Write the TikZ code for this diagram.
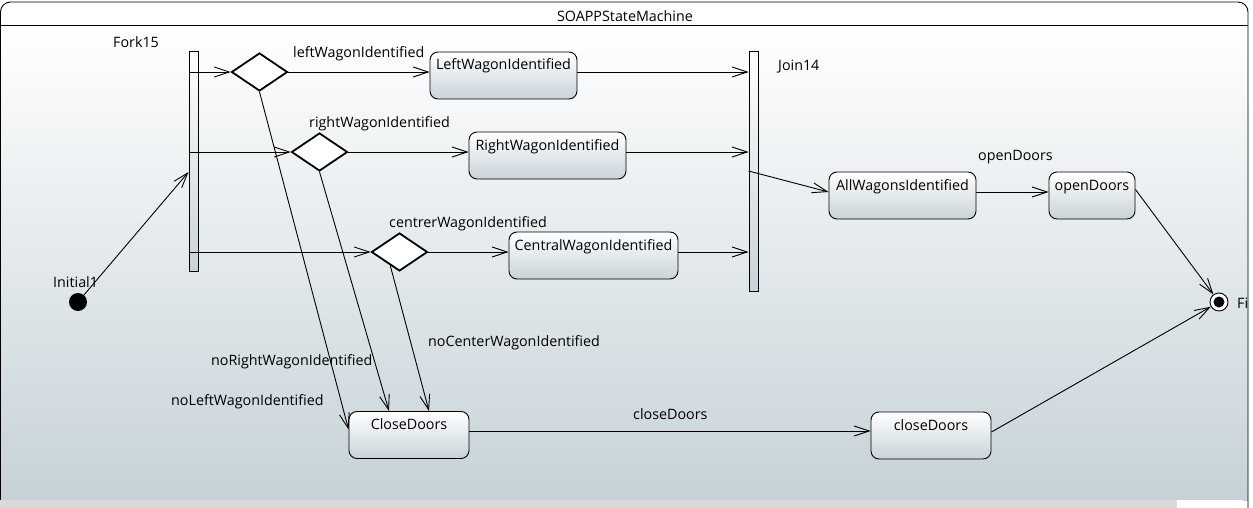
\documentclass[tikz,border=0pt]{standalone}
\usepackage{fontspec}
\setmainfont{Open Sans}
\usetikzlibrary{arrows.meta,shapes.geometric,calc}
\definecolor{bgbot}{RGB}{198,210,216}
\definecolor{stbot}{RGB}{200,211,217}
\definecolor{strip}{RGB}{217,217,217}
\begin{document}
\begin{tikzpicture}[x=1pt,y=-1pt,
  font=\fontsize{14.3}{17}\selectfont,
  >={Straight Barb[length=15pt,width=10pt]},
  conn/.style={->,line width=0.9pt},
  state/.style={draw,line width=0.9pt,rounded corners=8pt,top color=white,bottom color=stbot,
    inner xsep=0pt,inner ysep=0pt,text height=18pt,text depth=29pt,minimum height=47pt},
  bar/.style={draw,line width=0.9pt,top color=white,bottom color=stbot,minimum width=9pt,inner sep=0pt},
  choice/.style={diamond,draw,line width=1.8pt,fill=white,minimum width=56pt,minimum height=38pt,
    inner sep=0pt,aspect=1.47},
  lbl/.style={anchor=west,inner sep=0pt,text height=14pt,text depth=3pt}
]
\useasboundingbox (0,0) rectangle (1253,508);
\fill[white] (0,0) rectangle (1253,508);
% frame
\shade[top color=white,bottom color=bgbot] (1,25) rectangle (1248,500);
\draw[line width=0.9pt,rounded corners=10pt] (0.5,512) -- (0.5,2) -- (1248,2) -- (1248,512);
\draw[line width=0.9pt] (0.5,25) -- (1248,25);
\fill[strip] (0,500) rectangle (1177,508);
\fill[white] (1177,500) rectangle (1243,508);
\node (title) at (625,16) {SOAPPStateMachine};

% pseudo states
\node[bar,minimum height=220pt] (fork) at (193.5,161) {};
\node[bar,minimum height=240pt] (join) at (753.5,171) {};
\node[lbl] (forkl) at (113,42) {Fork15};
\node[lbl] (joinl) at (778,65) {Join14};
\node[circle,fill=black,minimum size=18pt,inner sep=0pt] (init) at (78,302) {};
\node[lbl] (initl) at (53,282) {Initial1};
\node[circle,draw,line width=0.9pt,fill=white,minimum size=18pt,inner sep=0pt] (fin) at (1219,302) {};
\fill (fin.center) circle (5.5pt);
\node[lbl] (finl) at (1237,303) {Fi};

\node[choice] (d1) at (259.5,72) {};
\node[choice] (d2) at (319.5,152) {};
\node[choice] (d3) at (399.5,252) {};

% states
\node[state,minimum width=147pt] (lw) at (503.5,75.5) {LeftWagonIdentified};
\node[state,minimum width=157pt] (rw) at (547.5,155.5) {RightWagonIdentified};
\node[state,minimum width=169pt] (cw) at (593.5,255.5) {CentralWagonIdentified};
\node[state,minimum width=147pt] (aw) at (902.5,195.5) {AllWagonsIdentified};
\node[state,minimum width=86pt] (od) at (1092,195.5) {openDoors};
\node[state,minimum width=120pt] (cd) at (409,435) {CloseDoors};
\node[state,minimum width=120pt] (cd2) at (931,435.5) {closeDoors};

% connectors
\draw[conn] (init) -- ([yshift=-11pt]fork.west);
\draw[conn] (fork.west |- d1) -- (d1.west);
\draw[conn] (fork.west |- d2) -- (d2.west);
\draw[conn] (fork.west |- d3) -- (d3.west);
\draw[conn] (d1.east) -- (lw.west |- d1);
\draw[conn] (d2.east) -- (rw.west |- d2);
\draw[conn] (d3.east) -- (cw.west |- d3);
\draw[conn] (lw.east |- d1) -- (join.west |- d1);
\draw[conn] (rw.east |- d2) -- (join.west |- d2);
\draw[conn] (cw.east |- d3) -- (join.west |- d3);
\draw[conn] (join.west) -- ([yshift=3.5pt]aw.west);
\coordinate (awo) at ([yshift=3.5pt]aw.east);
\draw[conn] (awo) -- (awo -| od.west);
\draw[conn] ([yshift=6pt]od.east) -- (fin);
\draw[conn] (d1.south) -- ([yshift=5.5pt]cd.west);
\draw[conn] (d2.south) -- ([xshift=-20pt]cd.north);
\draw[conn] ($(d3.south)!0.32!(d3.west)$) -- ([xshift=20pt]cd.north);
\coordinate (cdo) at ([yshift=4pt]cd.east);
\draw[conn] (cdo) -- (cdo -| cd2.west);
\draw[conn] ([yshift=3.5pt]cd2.east) -- (fin);

% labels
\node[lbl] (l1) at (293,52) {leftWagonIdentified};
\node[lbl] (l2) at (309,122) {rightWagonIdentified};
\node[lbl] (l3) at (389,222) {centrerWagonIdentified};
\node[lbl] (l4) at (978,155) {openDoors};
\node[lbl] (l5) at (211,360) {noRightWagonIdentified};
\node[lbl] (l6) at (171,400) {noLeftWagonIdentified};
\node[lbl] (l7) at (428,341) {noCenterWagonIdentified};
\node[lbl] (l8) at (633,414) {closeDoors};
\end{tikzpicture}
\end{document}
